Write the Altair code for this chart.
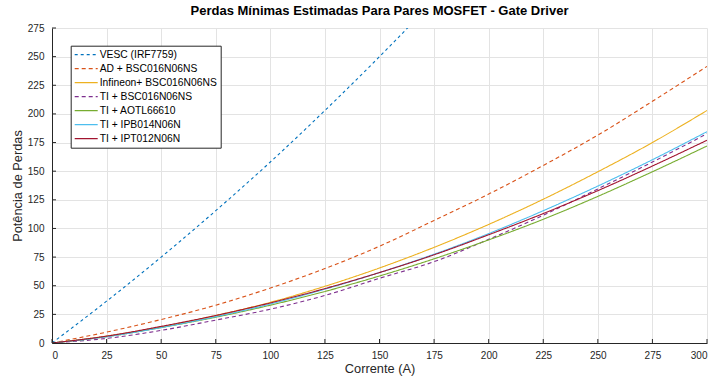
import altair as alt
import pandas as pd

# ---------------- data ----------------
current = [0, 25, 50, 75, 100, 125, 150, 175, 200, 225, 250, 275, 300]
vesc_current = [0, 25, 50, 75, 100, 125, 150, 175]

vesc = [0, 36.5, 75, 115.5, 158, 203, 250, 299]
ad_bsc = [0, 9.5, 20.5, 33, 48, 65, 84.5, 107, 130, 155, 181.5, 211, 241.5]
infineon_bsc = [0, 6, 14, 24, 35.5, 49.5, 65.5, 83.5, 103.5, 125.5, 149.5, 175, 203]
ti_bsc = [0, 4, 11, 20, 29.5, 41.5, 56.5, 71, 90.5, 111.5, 134.5, 158, 182.7]
ti_aotl = [0, 5.5, 13.5, 22.5, 33, 45, 58.5, 73.5, 90, 108, 128, 149.5, 172]
ti_ipb = [0, 5.5, 13.5, 23, 34, 47, 61.5, 77.5, 95.5, 115.5, 137, 160, 184.5]
ti_ipt = [0, 6, 14.5, 24, 35, 47.5, 61.5, 77, 94.5, 113, 133, 154.5, 177]

series_names = [
    "VESC (IRF7759)",
    "AD + BSC016N06NS",
    "Infineon+ BSC016N06NS",
    "TI + BSC016N06NS",
    "TI + AOTL66610",
    "TI + IPB014N06N",
    "TI + IPT012N06N",
]
series_values = [vesc, ad_bsc, infineon_bsc, ti_bsc, ti_aotl, ti_ipb, ti_ipt]
series_x = [vesc_current] + [current] * 6

x_ticks = [0, 25, 50, 75, 100, 125, 150, 175, 200, 225, 250, 275, 300]
y_ticks = [0, 25, 50, 75, 100, 125, 150, 175, 200, 225, 250, 275]

colors = ["#0072BD", "#D95319", "#EDB120", "#7E2F8E", "#77AC30", "#4DBEEE", "#A2142F"]
dashes = [[3, 3], [4, 3], [1, 0], [4, 3], [1, 0], [1, 0], [1, 0]]

rows = []
for k, (name, xs, ys) in enumerate(zip(series_names, series_x, series_values)):
    for xv, yv in zip(xs, ys):
        rows.append({"serie": name, "ordem": k, "Corrente": xv, "Perdas": yv})
df = pd.DataFrame(rows)

FONT = "Liberation Sans"
W, H = 655, 315

x_scale = alt.Scale(domain=[0, 300], nice=False, zero=True)
y_scale = alt.Scale(domain=[0, 275], nice=False, zero=True)

x_axis = alt.Axis(values=x_ticks, tickCount=13, title="Corrente (A)", grid=True, ticks=False,
                  labelPadding=7, titlePadding=2, format="d", labelOverlap=False)
y_axis = alt.Axis(values=y_ticks, tickCount=12, title="Potência de Perdas", grid=True, ticks=False,
                  labelPadding=8, titlePadding=3, format="d", labelOverlap=False)

legend = alt.Legend(
    title=None, orient="none", legendX=18.7, legendY=17.7,
    fillColor="white", strokeColor="#262626", padding=3,
    symbolType="M-1,0H3.6", symbolSize=100, symbolStrokeWidth=1.2,
    labelFont=FONT, labelFontSize=10.3, labelColor="#000000",
    rowPadding=2, labelOffset=14,
)

lines = alt.Chart(df).mark_line(strokeWidth=1.1, clip=True, interpolate="monotone").encode(
    x=alt.X("Corrente:Q", scale=x_scale, axis=x_axis),
    y=alt.Y("Perdas:Q", scale=y_scale, axis=y_axis),
    color=alt.Color("serie:N", sort=series_names,
                    scale=alt.Scale(domain=series_names, range=colors), legend=legend),
    strokeDash=alt.StrokeDash("serie:N", sort=series_names,
                              scale=alt.Scale(domain=series_names, range=dashes), legend=legend),
    order=alt.Order("ordem:Q"),
)

xt = pd.DataFrame({"t": x_ticks})
yt = pd.DataFrame({"t": y_ticks})
x_tick_marks = alt.Chart(xt).mark_rule(color="#262626", strokeWidth=1).encode(
    x=alt.X("t:Q", scale=x_scale, axis=x_axis), y=alt.value(H), y2=alt.value(H - 4)
)
y_tick_marks = alt.Chart(yt).mark_rule(color="#262626", strokeWidth=1).encode(
    y=alt.Y("t:Q", scale=y_scale, axis=y_axis), x=alt.value(0), x2=alt.value(4)
)

chart = alt.layer(lines, x_tick_marks, y_tick_marks).properties(
    width=W, height=H,
    title=alt.TitleParams(
        "Perdas Mínimas Estimadas Para Pares MOSFET - Gate Driver",
        font=FONT, fontSize=13, fontWeight="bold", color="#000000",
        anchor="middle", offset=5,
    ),
    autosize=alt.AutoSizeParams(type="none"),
    padding={"left": 52, "top": 28, "right": 8, "bottom": 35},
).configure_view(stroke=None).configure_axis(
    labelFont=FONT, labelFontSize=10, labelColor="#262626",
    titleFont=FONT, titleFontSize=12.8, titleFontWeight="normal", titleColor="#262626",
    domainColor="#262626", domainWidth=1, gridColor="#e3e3e3", gridWidth=1,
)

chart.save("out.html", embed_options={"renderer": "svg", "actions": False})
